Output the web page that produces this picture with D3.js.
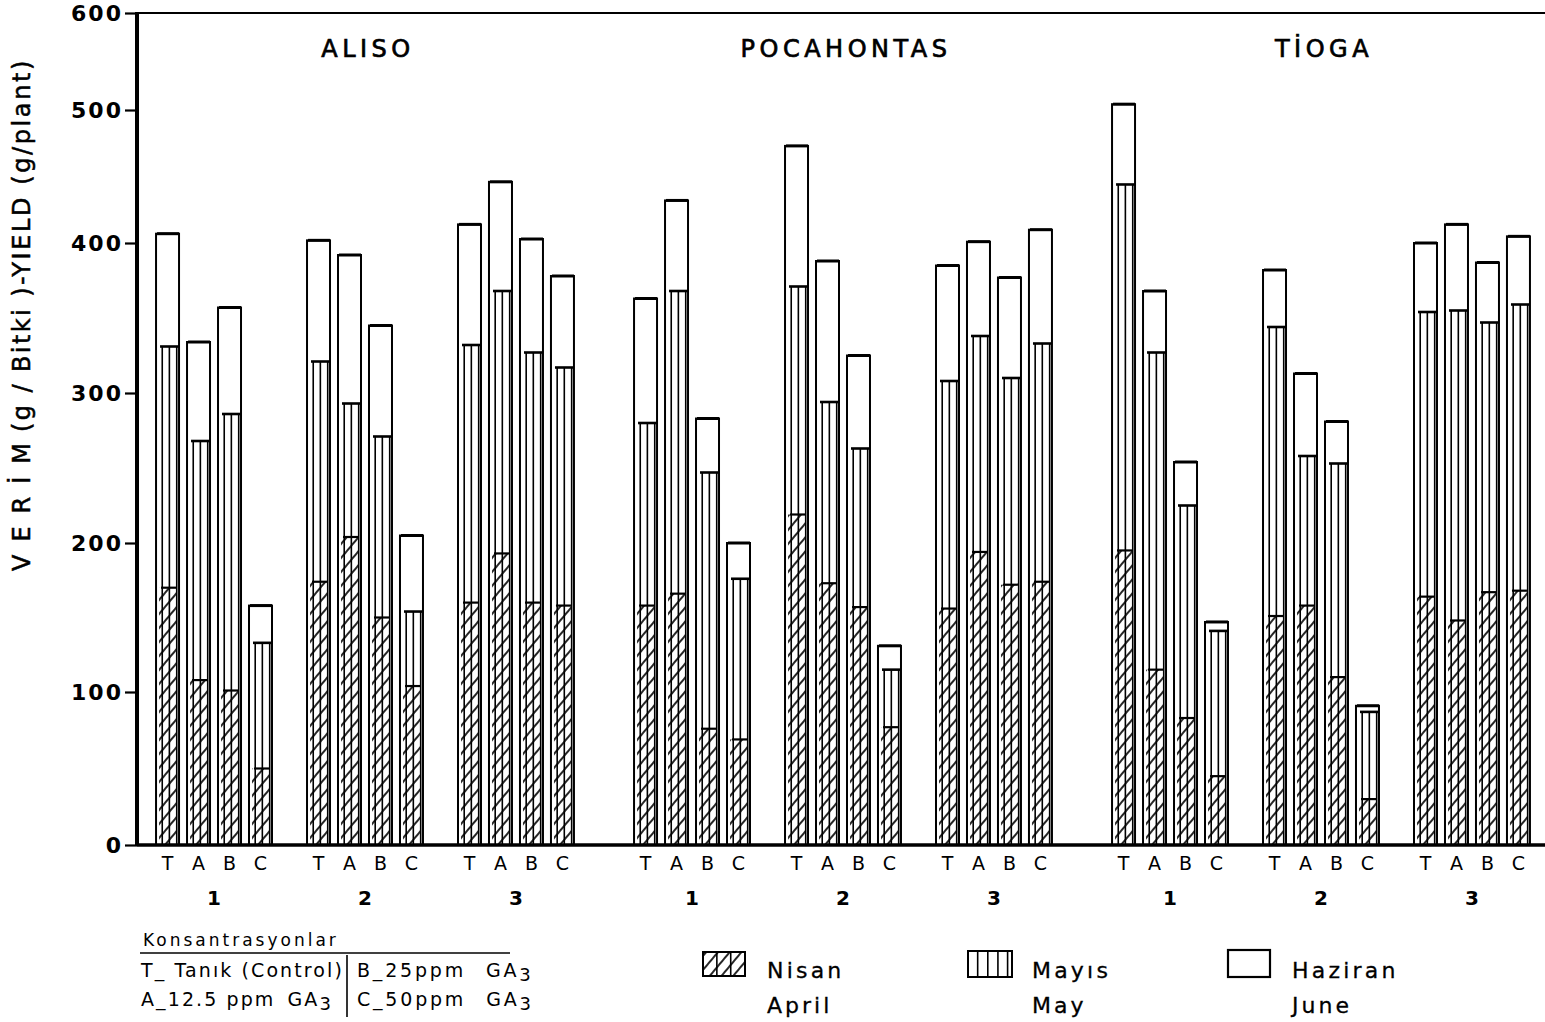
<!DOCTYPE html>
<html><head><meta charset="utf-8">
<script src="https://cdn.jsdelivr.net/npm/d3@7"></script>
<style>body{margin:0;background:#fff} svg{display:block;font-family:"DejaVu Sans",sans-serif}</style>
</head><body><svg id="c" width="1545" height="1022"></svg>
<script>
// ---- data ----
const cultivars = ["ALISO", "POCAHONTAS", "TİOGA"];
const groups = ["1", "2", "3"];
const treatments = ["T", "A", "B", "C"];
const yTicks = [0, 100, 200, 300, 400, 500, 600];
// order: cultivar -> group -> treatment (T,A,B,C)
const nisan = [170,108,101,50, 174,204,150,104, 160,193,160,158,
               158,166,76,69,  219,173,157,77,  156,194,172,174,
               195,115,83,45,  151,158,110,30,  164,148,167,168];
const mayis = [161,160,185,83, 147,89,121,50,  172,175,167,159,
               122,202,171,107, 152,121,106,38, 152,144,138,159,
               249,212,142,96, 193,100,143,57,  190,207,180,191];
const haziran = [76,66,71,25,  81,99,74,51,   82,78,76,61,
                 83,64,36,24,  102,94,62,16,  77,63,67,77,
                 62,41,29,6,   38,55,28,4,    46,59,40,46];
const legendTr = ["Nisan", "Mayıs", "Haziran"];
const legendEn = ["April", "May", "June"];
const concLeft = ["T_ Tanık (Control)", "A_12.5 ppm GA3"];
const concRight = ["B_25ppm GA3", "C_50ppm GA3"];

// ---- layout ----
const svg = d3.select("#c");
const defs = svg.append("defs");
const hp = defs.append("pattern").attr("id","hatch").attr("patternUnits","userSpaceOnUse")
  .attr("width",9).attr("height",9).attr("patternTransform","rotate(40)");
hp.append("rect").attr("width",9).attr("height",9).attr("fill","#fff");
hp.append("line").attr("x1",1).attr("x2",1).attr("y1",0).attr("y2",9).attr("stroke","#000").attr("stroke-width",1.7);

const y = d3.scaleLinear().domain(yTicks).range([845,692,543,393,243,110,13]);
const xCult = d3.scaleBand().domain(cultivars).range([126,1560]);
const xGroup = d3.scaleBand().domain(groups).range([0,xCult.bandwidth()]).paddingInner(0.179).paddingOuter(0.1725);
const xTreat = d3.scaleBand().domain(treatments).range([0,xGroup.bandwidth()]).paddingInner(0.258).paddingOuter(0.129);
const bw = xTreat.bandwidth();

const rows = [];
cultivars.forEach((c,ci)=>groups.forEach((g,gi)=>treatments.forEach((t,ti)=>{
  const i = ci*12+gi*4+ti;
  rows.push({c,g,t,nisan:nisan[i],mayis:mayis[i],haziran:haziran[i]});
})));
const st = d3.stack().keys(["nisan","mayis","haziran"])(rows);
rows.forEach((r,i)=>{ r.apr = st[0][i][1]; r.may = st[1][i][1]; r.tot = st[2][i][1]; });
const xPos = d=> xCult(d.c)+xGroup(d.g)+xTreat(d.t);

// bars
const bars = svg.append("g").selectAll("g").data(rows).join("g")
  .attr("transform", d=>`translate(${xPos(d)},0)`);
bars.append("rect").attr("x",0).attr("width",bw).attr("y",d=>y(d.tot)).attr("height",d=>y(0)-y(d.tot))
  .attr("fill","#fff").attr("stroke","#000").attr("stroke-width",2);
bars.append("rect").attr("x",3).attr("width",bw-5).attr("y",d=>y(d.apr)).attr("height",d=>y(0)-y(d.apr))
  .attr("fill","url(#hatch)");
[0.27,0.58,0.9].forEach(f=>{
  bars.append("line").attr("x1",bw*f).attr("x2",bw*f).attr("y1",d=>y(d.may)).attr("y2",y(0))
    .attr("stroke","#000").attr("stroke-width",1.6);
});
bars.append("line").attr("x1",4).attr("x2",bw).attr("y1",d=>y(d.may)).attr("y2",d=>y(d.may))
  .attr("stroke","#000").attr("stroke-width",2.6);
bars.append("line").attr("x1",5).attr("x2",bw-3).attr("y1",d=>y(d.apr)).attr("y2",d=>y(d.apr))
  .attr("stroke","#000").attr("stroke-width",2.2);
bars.append("line").attr("x1",1).attr("x2",bw).attr("y1",d=>y(d.tot)).attr("y2",d=>y(d.tot))
  .attr("stroke","#000").attr("stroke-width",3);

// frame / axes
svg.append("line").attr("x1",137).attr("x2",1545).attr("y1",y(600)).attr("y2",y(600)).attr("stroke","#000").attr("stroke-width",2.2);
svg.append("line").attr("x1",137).attr("x2",1545).attr("y1",y(0)).attr("y2",y(0)).attr("stroke","#000").attr("stroke-width",3.5);
const ax = svg.append("g").attr("transform","translate(137,0)")
  .call(d3.axisLeft(y).tickValues(yTicks).tickSize(12).tickPadding(2));
ax.select(".domain").remove();
ax.selectAll(".tick line").attr("stroke","#000").attr("stroke-width",2.2);
ax.selectAll(".tick text").attr("font-family","DejaVu Sans").attr("font-size",22).attr("font-weight","bold")
  .attr("letter-spacing",2).attr("fill","#000").attr("dy","0.35em");
svg.append("line").attr("x1",137).attr("x2",137).attr("y1",y(600)-1).attr("y2",y(0)+1).attr("stroke","#000").attr("stroke-width",4);

// x labels
svg.append("g").selectAll("text").data(rows).join("text")
  .attr("x",d=>xPos(d)+bw/2).attr("y",870).attr("text-anchor","middle")
  .attr("font-size",19).text(d=>d.t);
const gl = [];
cultivars.forEach(c=>groups.forEach(g=>gl.push({c,g})));
svg.append("g").selectAll("text").data(gl).join("text")
  .attr("x",d=>xCult(d.c)+xGroup(d.g)+xGroup.bandwidth()/2).attr("y",905).attr("text-anchor","middle")
  .attr("font-size",20).attr("font-weight","bold").text(d=>d.g);

// cultivar titles
svg.append("g").selectAll("text").data(cultivars).join("text")
  .attr("x",d=>xCult(d)+xCult.bandwidth()/2+3).attr("y",57).attr("text-anchor","middle")
  .attr("font-size",24).attr("letter-spacing",4.5).attr("stroke","#000").attr("stroke-width",0.7).text(d=>d);

// y label
const yl = svg.append("text").attr("transform","translate(30,571) rotate(-90)").attr("font-size",24)
  .attr("stroke","#000").attr("stroke-width",0.5);
yl.append("tspan").attr("letter-spacing",13).text("VERİM");
yl.append("tspan").attr("letter-spacing",2.4).attr("dx",-2).text("(g / Bitki )");
yl.append("tspan").attr("letter-spacing",2.6).text("-YIELD (g/plant)");

// concentration legend
svg.append("text").attr("x",143).attr("y",946).attr("font-size",17).attr("letter-spacing",3).text("Konsantrasyonlar");
svg.append("line").attr("x1",140).attr("x2",510).attr("y1",953).attr("y2",953).attr("stroke","#000").attr("stroke-width",1.6);
svg.append("line").attr("x1",347).attr("x2",347).attr("y1",955).attr("y2",1017).attr("stroke","#000").attr("stroke-width",1.6);
function chem(sel, s, gap){
  const m = s.match(/^(.*) GA3$/);
  if(m){ sel.append("tspan").text(m[1]); sel.append("tspan").attr("dx",gap).text("GA");
         sel.append("tspan").attr("dy",4).attr("font-size",18).text("3"); }
  else sel.text(s);
}
concLeft.forEach((s,i)=>{ const t=svg.append("text").attr("x",141).attr("y",977+i*29).attr("font-size",19).attr("letter-spacing",2.1); chem(t,s,12); });
concRight.forEach((s,i)=>{ const t=svg.append("text").attr("x",357).attr("y",977+i*29).attr("font-size",19).attr("letter-spacing",2.8); chem(t,s,20); });

// month legend
const lx = [703, 968, 1228];
const lg = svg.append("g");
// Nisan swatch
lg.append("rect").attr("x",lx[0]).attr("y",952).attr("width",42).attr("height",24).attr("fill","url(#hatch)").attr("stroke","#000").attr("stroke-width",2);
[0.33,0.66].forEach(f=>lg.append("line").attr("x1",lx[0]+42*f).attr("x2",lx[0]+42*f).attr("y1",952).attr("y2",976).attr("stroke","#000").attr("stroke-width",1.6));
// Mayis swatch
lg.append("rect").attr("x",lx[1]).attr("y",951).attr("width",44).attr("height",26).attr("fill","#fff").attr("stroke","#000").attr("stroke-width",2);
[0.22,0.45,0.68,0.9].forEach(f=>lg.append("line").attr("x1",lx[1]+44*f).attr("x2",lx[1]+44*f).attr("y1",951).attr("y2",977).attr("stroke","#000").attr("stroke-width",1.6));
// Haziran swatch
lg.append("rect").attr("x",lx[2]).attr("y",950).attr("width",42).attr("height",27).attr("fill","#fff").attr("stroke","#000").attr("stroke-width",2.2);
legendTr.forEach((s,i)=>lg.append("text").attr("x",lx[i]+64).attr("y",978).attr("font-size",22).attr("letter-spacing",3.2).attr("stroke","#000").attr("stroke-width",0.3).text(s));
legendEn.forEach((s,i)=>lg.append("text").attr("x",lx[i]+64).attr("y",1013).attr("font-size",22).attr("letter-spacing",3).attr("stroke","#000").attr("stroke-width",0.3).text(s));
</script></body></html>
